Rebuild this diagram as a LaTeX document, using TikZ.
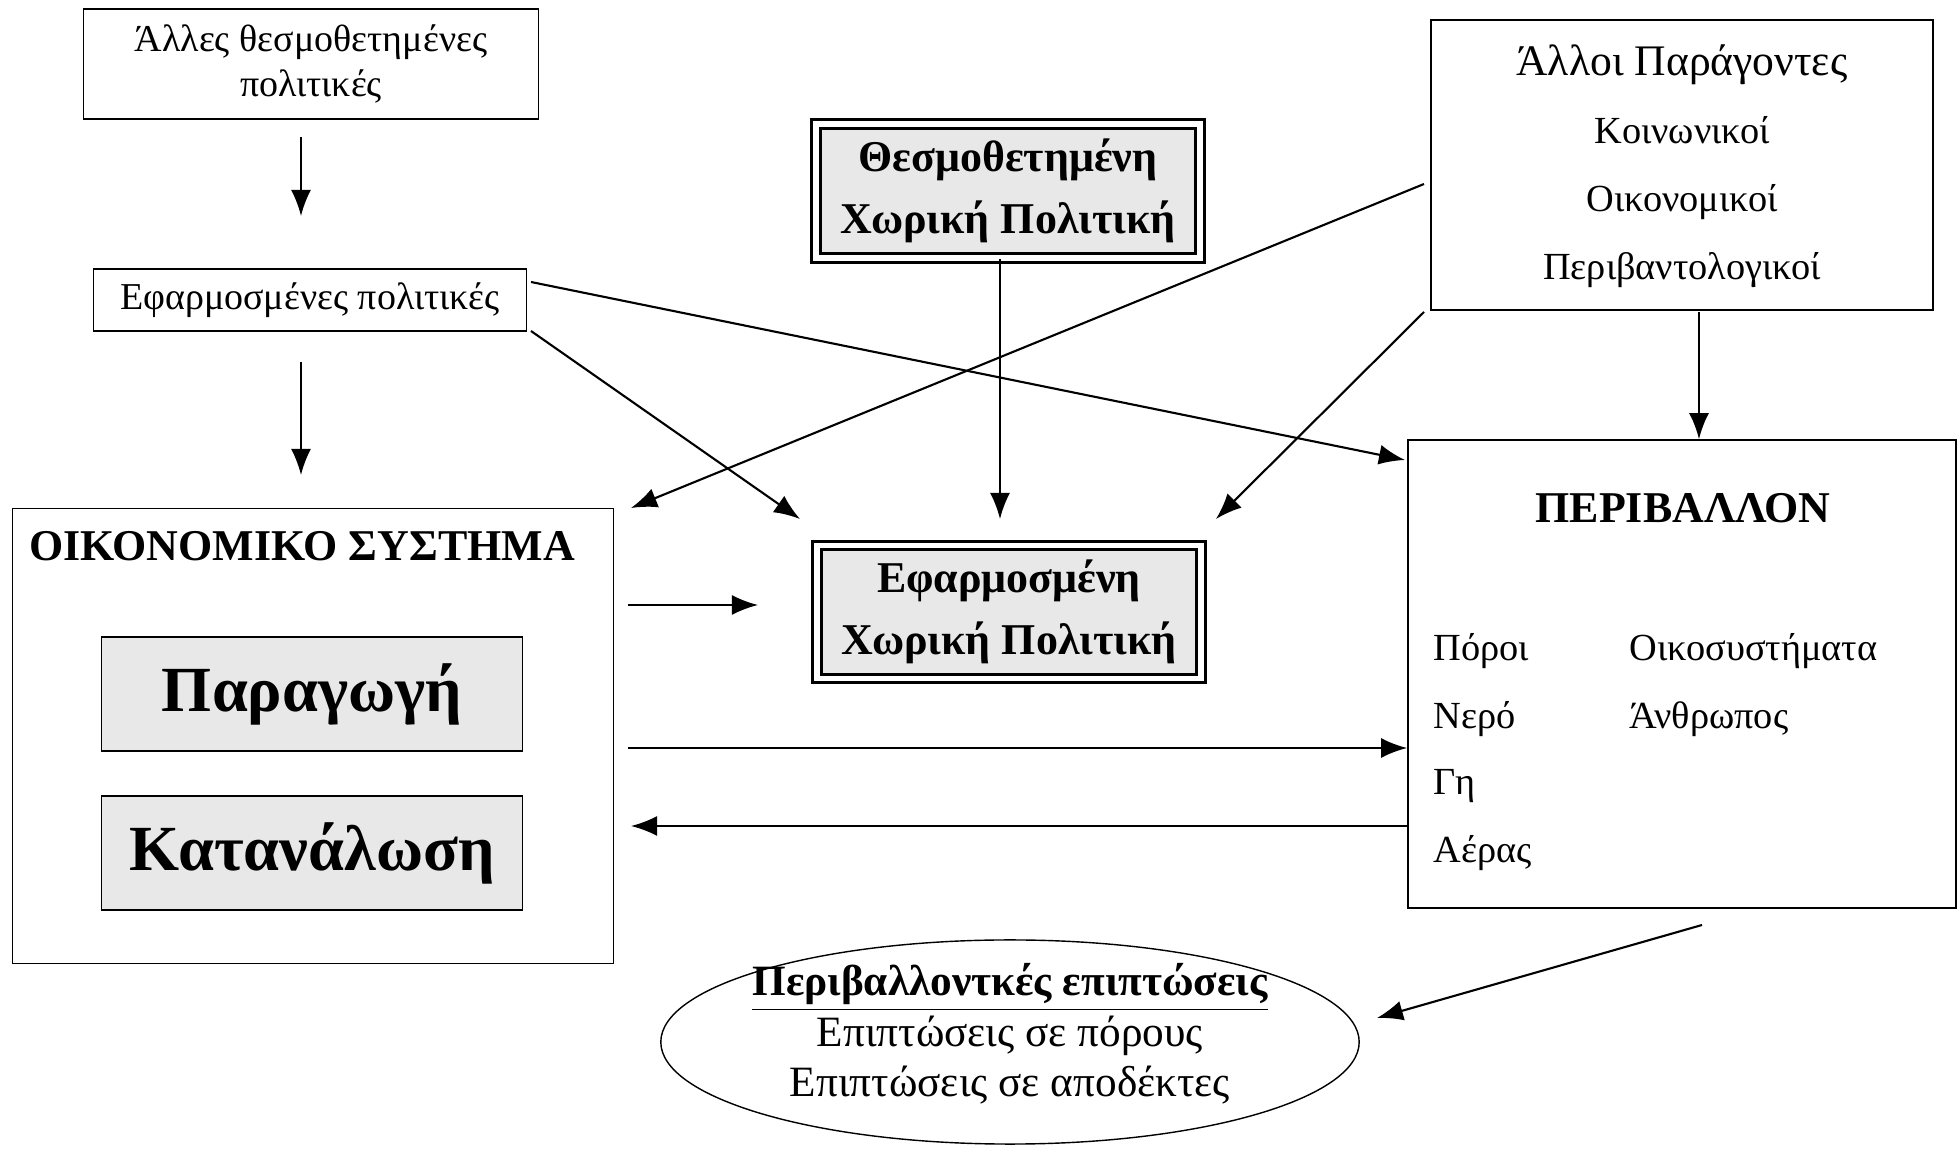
\documentclass[tikz,border=0pt]{standalone}
\usepackage{fontspec}
\setmainfont{Liberation Serif}
\usetikzlibrary{positioning}
\usetikzlibrary{shapes.geometric,arrows.meta}

\tikzset{
  box/.style={draw, rectangle, align=center, inner sep=0pt},
  shadebox/.style={box, fill=gray!18, font=\bfseries},
  twolines/.style={shadebox, double, double distance=1.6pt, line width=0.8pt},
  flow/.style={-{Latex[length=2.6mm,width=2.0mm]}, line width=0.6pt},
  txt/.style={inner sep=0pt, anchor=base west},
  ctxt/.style={inner sep=0pt, anchor=base},
}

\begin{document}
\begin{tikzpicture}[x=0.01cm, y=-0.01cm]
\useasboundingbox (0,0) rectangle (1959,1149);
% policies
\node[box, minimum width=4.55cm, minimum height=1.10cm, font=\fontsize{10.8}{12.6}\selectfont] (otherpol) at (311,64) {Άλλες θεσμοθετημένες\\πολιτικές};
\node[box, minimum width=4.33cm, minimum height=0.62cm, font=\fontsize{10.8}{13}\selectfont] (applpol) at (310,300) {Εφαρμοσμένες πολιτικές};
\node[twolines, minimum width=3.84cm, minimum height=1.34cm, font=\fontsize{12.5}{17.8}\selectfont\bfseries] (instspat) at (1008,191) {Θεσμοθετημένη\\Χωρική Πολιτική};
\node[twolines, minimum width=3.84cm, minimum height=1.33cm, font=\fontsize{12.5}{17.8}\selectfont\bfseries] (applspat) at (1009,612) {Εφαρμοσμένη\\Χωρική Πολιτική};
% other factors
\node[box, minimum width=5.02cm, minimum height=2.90cm] (factors) at (1682,165) {};
\node[ctxt, font=\fontsize{12.4}{15}\selectfont] (ftitle) at (1682,76) {Άλλοι Παράγοντες};
\begin{scope}[font=\fontsize{10.9}{13}\selectfont]
\node[ctxt] (social) at (1682,144) {Κοινωνικοί};
\node[ctxt] (economic) at (1682,212) {Οικονομικοί};
\node[ctxt] (environ) at (1682,280) {Περιβαντολογικοί};
\end{scope}
% economic system
\node[box, minimum width=6.01cm, minimum height=4.55cm] (econ) at (313,736) {};
\node[font=\fontsize{12.5}{15}\selectfont\bfseries] (econtitle) at (302,546) {ΟΙΚΟΝΟΜΙΚΟ ΣΥΣΤΗΜΑ};
\node[shadebox, minimum width=4.21cm, minimum height=1.14cm, font=\fontsize{18.3}{22}\selectfont\bfseries] (prod) at (312,694) {Παραγωγή};
\node[shadebox, minimum width=4.21cm, minimum height=1.14cm, font=\fontsize{18.3}{22}\selectfont\bfseries] (cons) at (312,853) {Κατανάλωση};
% environment
\node[box, minimum width=5.48cm, minimum height=4.68cm] (env) at (1682,674) {};
\node[font=\fontsize{12.5}{15}\selectfont\bfseries] (envtitle) at (1683,508) {ΠΕΡΙΒΑΛΛΟΝ};
\begin{scope}[font=\fontsize{10.9}{13}\selectfont]
\node[txt] (res) at (1433,661) {Πόροι};
\node[txt] (water) at (1433,729) {Νερό};
\node[txt] (land) at (1433,795) {Γη};
\node[txt] (air) at (1433,863) {Αέρας};
\node[txt] (eco) at (1629,661) {Οικοσυστήματα};
\node[txt] (human) at (1629,729) {Άνθρωπος};
\end{scope}
% impacts
\node[draw, ellipse, minimum width=6.98cm, minimum height=2.04cm, inner sep=0pt] (impact) at (1010,1042) {};
\node[align=center, inner sep=0pt, font=\fontsize{12.3}{14.4}\selectfont] (impacttext) at (1010,1034)
  {\textbf{\underline{Περιβαλλοντκές επιπτώσεις}}\\Επιπτώσεις σε πόρους\\Επιπτώσεις σε αποδέκτες};

% arrow ends
\coordinate (a1) at (301,137); \coordinate (a2) at (301,216);
\coordinate (b1) at (301,362); \coordinate (b2) at (301,475);
\coordinate (c1) at (531,282); \coordinate (c2) at (1405,460);
\coordinate (d1) at (531,331); \coordinate (d2) at (800,519);
\coordinate (e1) at (1424,184); \coordinate (e2) at (631,508);
\coordinate (f2) at (1000,519);
\coordinate (g1) at (1424,312); \coordinate (g2) at (1216,519);
\coordinate (h1) at (1699,312);
\coordinate (i1) at (628,605); \coordinate (i2) at (758,605);
\coordinate (j1) at (628,748);
\coordinate (k2) at (631,826);
\coordinate (l1) at (1702,925); \coordinate (l2) at (1377,1018);

\draw[flow] (a1) -- (a2);
\draw[flow] (b1) -- (b2);
\draw[flow] (c1) -- (c2);
\draw[flow] (d1) -- (d2);
\draw[flow] (e1) -- (e2);
\draw[flow] (instspat.south -| f2) -- (f2);
\draw[flow] (g1) -- (g2);
\draw[flow] (h1) -- (h1 |- env.north);
\draw[flow] (i1) -- (i2);
\draw[flow] (j1) -- (j1 -| env.west);
\draw[flow] (k2 -| env.west) -- (k2);
\draw[flow] (l1) -- (l2);
\end{tikzpicture}
\end{document}
